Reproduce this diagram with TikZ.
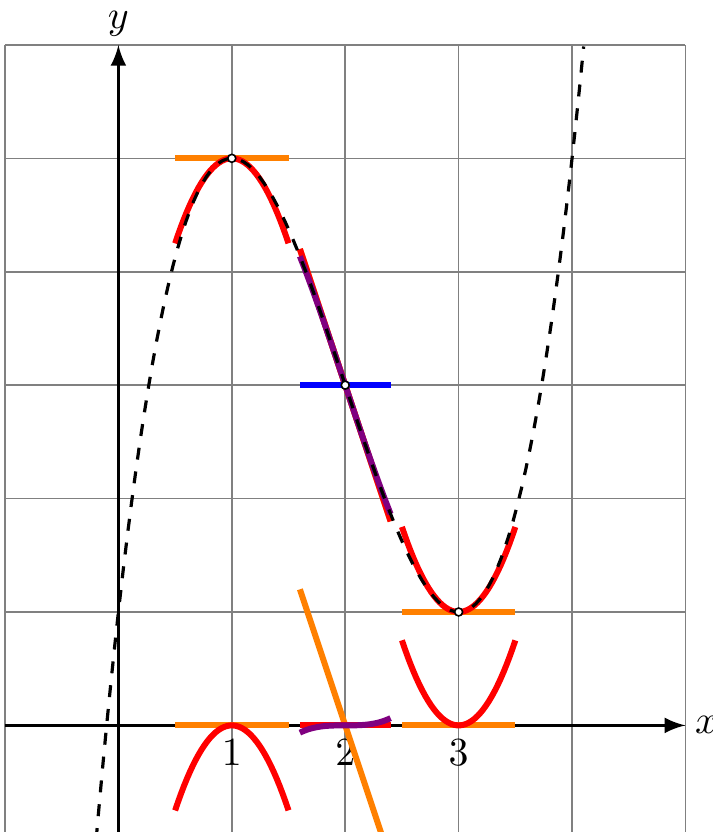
\documentclass[tikz,border=0pt]{standalone}
\begin{document}
\begin{tikzpicture}[x=1cm,y=1cm,
  approx/.style={line width=1.5pt},
  fcurve/.style={thick,dashed},
  dot/.style={circle,draw,fill=white,inner sep=0pt,minimum size=2pt}]
%set diagram frame, cut at the bottom
\useasboundingbox (-1.044,-0.94) rectangle (5.238,6.396);
\clip (-1.044,-0.94) rectangle (5.238,6.396);

%Shape: Grid
\draw [gray,thin] (-1,-1) grid (5,6);
%Shape: Axes
\coordinate (xstart) at (-1,0);
\coordinate (xend) at (5,0);
\coordinate (ystart) at (0,-1);
\coordinate (yend) at (0,6);
\draw [thick,-latex] (xstart) -- (xend);
\draw [thick,-latex] (ystart) -- (yend);

% Text Node
\node [right,inner sep=2.2pt] (xlab) at (xend) {$x$};
% Text Node
\node [above,inner sep=2pt] (ylab) at (yend) {$y$};
% Text Node
\foreach \k in {1,2,3} \node [below] (tick\k) at (\k,0) {$\k$};

%Shape: order 0
\foreach \a/\b/\w in {1/5/0.5,2/3/0.4,3/1/0.5}
  \draw [approx,blue] (\a-\w,\b) -- (\a+\w,\b);
%Shape: order 1
\draw [approx,orange] (0.5,5) -- (1.5,5);
\draw [approx,orange] plot[domain=1.6:2.4,samples=2] (\x,{3-3*(\x-2)});
\draw [approx,orange] (2.5,1) -- (3.5,1);
%Shape: order 2
\draw [approx,red] plot[domain=0.5:1.5,samples=40] (\x,{5-3*(\x-1)*(\x-1)});
\draw [approx,red] plot[domain=1.6:2.4,samples=2] (\x,{3-3*(\x-2)});
\draw [approx,red] plot[domain=2.5:3.5,samples=40] (\x,{1+3*(\x-3)*(\x-3)});
%Shape: order 3
\draw [approx,violet] plot[domain=1.6:2.4,samples=40] (\x,{3-3*(\x-2)+(\x-2)*(\x-2)*(\x-2)});

%Shape: single terms on the x axis
\draw [approx,orange] (0.5,0) -- (1.5,0);
\draw [approx,orange] plot[domain=1.6:2.4,samples=2] (\x,{-3*(\x-2)});
\draw [approx,orange] (2.5,0) -- (3.5,0);
\draw [approx,red] plot[domain=0.5:1.5,samples=40] (\x,{-3*(\x-1)*(\x-1)});
\draw [approx,red] (1.6,0) -- (2.4,0);
\draw [approx,red] plot[domain=2.5:3.5,samples=40] (\x,{3*(\x-3)*(\x-3)});
\draw [approx,violet] plot[domain=1.6:2.4,samples=40] (\x,{(\x-2)*(\x-2)*(\x-2)});

%Shape: the function
\draw [fcurve] plot[domain=-0.25:4.104,samples=120] (\x,{\x*\x*\x-6*\x*\x+9*\x+1});

%Shape: Circle
\node [dot] (p1) at (1,5) {};
\node [dot] (p2) at (2,3) {};
\node [dot] (p3) at (3,1) {};
\end{tikzpicture}
\end{document}
